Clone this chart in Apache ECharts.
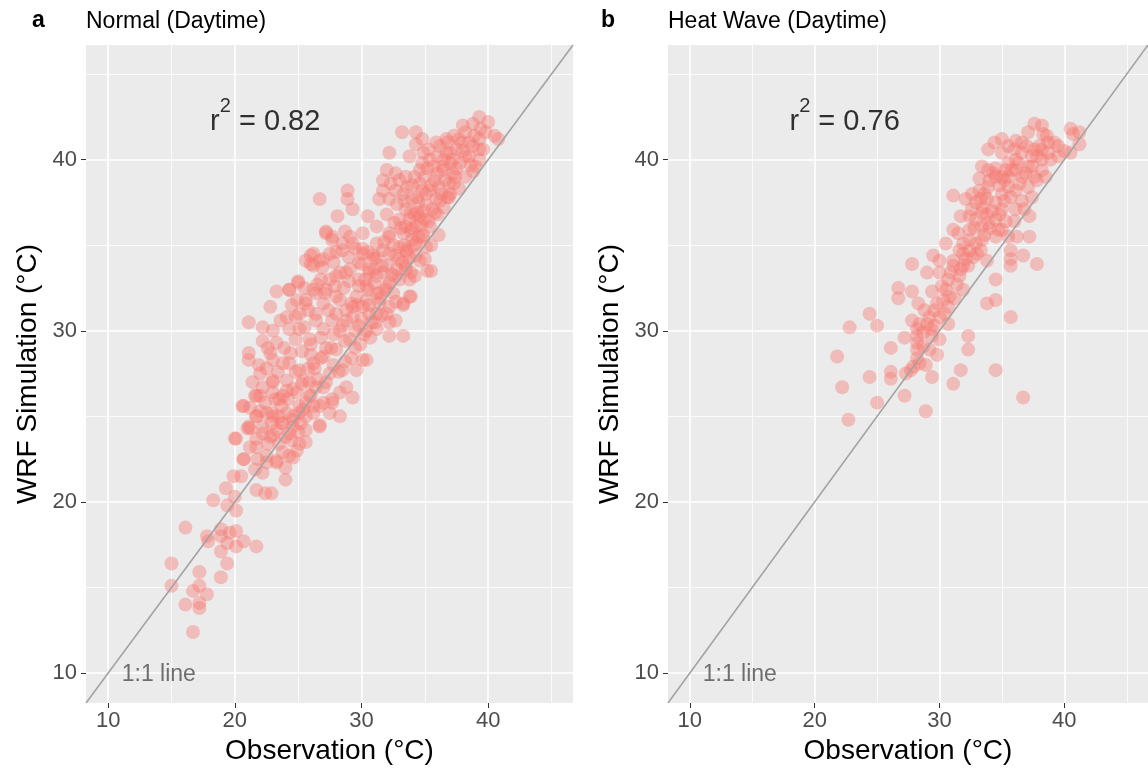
<!DOCTYPE html>
<html>
<head>
<meta charset="utf-8">
<script src="https://cdn.jsdelivr.net/npm/echarts@6/dist/echarts.min.js"></script>
<style>
html,body{margin:0;padding:0;background:#fff;}
#chart{width:1148px;height:772px;}
</style>
</head>
<body>
<div id="chart"></div>
<script>
// ---- data ----
const panelTags = ['a', 'b'];
const panelTitles = ['Normal (Daytime)', 'Heat Wave (Daytime)'];
const r2Values = ['0.82', '0.76'];
const xTicks = [10, 20, 30, 40];
const yTicks = [10, 20, 30, 40];
const minorTicks = [15, 25, 35, 45];
const axisRange = [8.25, 46.7];
const identityLine = [[8.25, 8.25], [46.7, 46.7]];
const r2LabelAt = [22.4, 42.5];
const oneToOneLabelAt = [14.0, 9.9];

// [observation, WRF simulation]
const normalPoints = [
[16.1,18.5],[15.0,16.4],[15.0,15.1],[17.2,15.9],[18.9,15.6],[19.4,16.4],[16.7,14.8],[17.2,15.1],[17.8,14.6],[16.1,14.0],
[17.2,13.8],[17.2,14.1],[16.7,12.4],[17.8,18.0],[17.9,17.7],[18.9,18.4],[18.9,18.0],[18.9,17.1],[19.4,17.6],[20.1,18.3],
[20.1,17.4],[20.7,17.7],[21.7,17.4],[19.6,18.2],[18.3,20.1],[19.3,20.8],[20.1,19.5],[20.0,20.3],[19.4,19.8],[20.1,23.7],
[20.7,25.6],[19.9,21.5],[20.5,21.5],[20.7,22.5],[21.2,23.2],[21.2,24.3],[21.6,26.2],[21.7,20.7],[22.4,20.5],[22.9,20.5],
[21.6,21.9],[22.2,21.7],[21.8,22.5],[22.5,22.3],[23.3,22.4],[24.0,21.3],[24.0,22.0],[23.8,22.9],[24.6,22.6],[24.9,23.0],
[25.6,23.5],[26.7,24.4],[21.7,23.7],[22.2,24.0],[23.0,23.9],[21.0,24.3],[21.7,25.0],[22.5,25.2],[23.0,25.0],[23.7,24.6],
[24.1,25.2],[24.6,24.8],[25.1,25.2],[25.6,25.8],[26.2,25.2],[26.7,25.6],[27.5,25.2],[27.7,26.0],[22.0,26.2],[23.0,26.4],
[23.5,26.0],[24.1,26.5],[24.9,26.4],[23.0,27.0],[24.1,27.1],[25.9,27.0],
[21.1,30.5],[21.1,28.7],[21.1,28.3],[22.2,30.2],[22.2,29.4],[22.8,31.4],[23.3,32.3],[24.3,32.4],[25.0,32.8],[22.8,28.7],
[23.3,29.3],[22.0,27.5],[21.7,26.2],[20.6,25.6],[20.0,23.7],[20.7,22.5],[21.1,24.4],[22.2,26.7],[23.0,27.1],[23.8,28.1],
[24.3,30.1],[24.1,30.8],[25.1,31.0],[25.6,31.6],[26.2,32.4],[25.6,34.1],[26.2,34.5],[26.2,33.8],[27.0,34.2],[27.2,35.7],
[27.7,35.3],[28.5,34.7],[29.1,35.5],[30.1,34.8],[31.2,35.1],[32.2,35.5],[33.3,35.7],[34.8,35.5],[35.2,33.5],[33.8,32.0],
[33.3,31.5],[32.7,31.7],[32.2,30.5],[33.3,29.7],[32.2,29.7],[31.2,30.1],[30.4,28.3],[29.3,26.1],[28.3,26.4],[28.3,25.0],
[27.0,25.8],[26.7,24.5],[25.6,24.2],[25.1,23.4],[24.3,22.7],[23.3,22.3],[22.5,22.7],[21.7,23.2],
[25.1,30.1],[25.9,29.5],[27.0,30.1],[27.7,30.6],[28.8,31.2],[29.6,32.0],[30.4,32.6],[31.2,33.2],[32.0,33.8],[32.7,34.4],
[33.5,34.7],[34.3,35.1],[24.3,28.1],[25.1,27.7],[26.2,28.1],[27.0,28.5],[28.0,28.9],[29.1,29.5],[29.8,30.3],[30.6,31.0],
[31.4,31.6],[31.9,32.4],[23.8,26.2],[24.6,26.6],[25.4,27.1],[26.4,26.7],[27.5,27.5],[28.5,27.7],[29.6,27.7],[30.1,28.3],
[23.0,25.2],[23.8,24.6],[24.6,25.0],[25.4,25.4],[26.2,25.6],[22.8,23.8],[23.5,23.4],[22.2,24.4],[21.7,25.0],[28.3,33.4],
[27.5,33.0],[29.1,33.6],[29.8,34.0],[30.6,33.6],[30.9,34.4],[31.7,34.7],[32.7,33.2],[33.5,33.6],[33.8,33.0],[28.0,32.0],
[27.0,31.6],[26.4,31.0],[28.5,30.3],[29.3,30.8],[30.1,31.4],[31.2,32.2],[32.0,31.0],[32.7,30.6],[28.8,26.7],[27.7,25.8],
[27.0,26.7],[25.9,26.2],[25.1,25.6],
[39.3,42.5],[40.5,41.4],[38.8,42.1],[39.4,41.8],[33.2,41.6],[34.3,41.6],[34.3,40.9],[32.2,40.4],[33.8,40.2],[34.9,40.4],
[35.9,41.0],[36.7,41.2],[37.7,41.2],[38.2,41.6],[39.3,40.6],[39.3,40.0],[38.8,39.3],[37.7,38.3],[36.9,37.8],[36.1,35.6],
[35.5,33.5],[33.9,33.4],[33.9,32.0],[33.3,31.6],[26.7,37.7],[28.9,38.2],[28.9,37.7],[28.1,36.7],[29.3,37.1],[30.5,36.7],
[27.2,35.8],[27.7,35.5],[26.0,34.4],[26.0,33.9],[26.7,34.1],[25.0,32.9],[24.3,32.4],[31.7,38.8],[32.7,39.2],[31.7,38.2],
[31.4,37.7],[32.2,37.7],[32.7,38.2],[33.5,39.0],[34.6,39.4],[35.4,40.0],[36.4,39.6],[37.2,39.2],[34.0,37.7],[35.1,38.0],
[36.1,38.4],[34.6,36.7],[35.6,37.1],[33.5,36.1],[32.2,35.7],[31.2,36.1],[30.1,35.7],[29.3,35.1],[28.5,35.1],[30.1,34.5],
[31.2,34.3],[32.2,34.5],[33.0,34.9],[34.0,35.3],[35.1,34.9],[31.7,33.4],[30.6,33.4],[29.8,33.0],[28.8,33.4],[28.0,33.2],
[27.2,32.4],[26.4,32.2],[25.6,31.8],[28.3,31.8],[29.3,31.4],[30.4,31.8],[31.4,32.2],[32.5,32.2],[31.2,31.0],[32.2,31.4],
[33.8,34.3],[34.6,34.1],[33.5,33.8],[34.6,38.6],[33.5,37.1],[33.3,38.0],[36.7,40.4],[37.5,40.6],[38.2,40.2],[38.8,40.8],
[39.3,41.2],[36.9,38.6],[35.9,37.7],[35.4,36.1],[34.3,36.1],
[35.0,39.0],[35.5,38.5],[36.0,39.2],[36.5,40.0],[37.0,39.8],[37.5,39.5],[38.0,40.5],[38.5,41.0],[34.5,37.5],[35.0,36.5],
[36.0,36.8],[36.5,37.2],[37.0,38.0],[35.5,35.0],[34.5,35.5],[33.8,36.5],[34.0,38.5],[35.2,39.5],[36.2,40.8],[37.2,40.0],
[33.0,36.5],[32.5,35.0],[31.8,35.2],[32.8,33.6],[31.0,32.8],[30.5,32.4],[29.7,31.5],[30.8,30.5],[31.6,30.9],[29.5,29.0],
[30.2,29.8],[28.7,29.4],[27.6,29.0],[26.8,29.6],[26.0,28.6],[25.3,28.8],[24.8,29.5],[24.5,31.5],[25.5,32.5],[26.8,33.0],
[27.8,34.0],[29.0,34.3],[30.0,33.9],
[22.5,27.8],[23.0,28.3],[23.4,27.6],[23.9,29.0],[24.4,28.7],[24.8,27.6],[25.3,26.9],[25.8,27.8],[23.2,26.0],[23.7,25.6],
[24.2,26.0],[24.6,24.4],[25.0,24.1],[25.6,25.0],[22.4,25.8],[22.9,24.6],[23.5,25.0],[24.0,23.8],[24.5,23.6],[25.2,24.6],
[26.0,26.2],[26.5,27.2],[26.0,29.2],[25.5,30.2],[24.8,30.8],[23.6,30.6],[23.0,30.0],[22.6,29.0],[21.9,28.0],[21.4,27.0],
[21.2,25.5],[22.0,25.3],[22.6,23.4],[23.3,24.2],[24.3,24.0],[26.3,27.8],[26.8,28.4],[26.4,30.6],[25.8,31.2],[24.9,31.8],
[27.2,29.0],[27.8,29.8],[28.3,30.0],[28.8,30.6],[29.2,31.6],[29.8,32.6],[30.3,33.0],[27.4,31.2],[28.0,31.0],[28.6,32.5],
[29.0,32.9],[27.1,32.2],[27.9,32.6],[29.5,30.0],[30.0,30.7],[30.6,31.5],[29.2,28.4],[28.7,28.2],[28.2,27.6],[27.8,28.0],
[27.2,27.0],[29.9,29.2],[30.7,29.6],[31.1,30.5],[30.4,30.0],[31.5,31.9],[31.0,33.6],[30.5,34.6],[29.5,34.8],[28.7,35.8],
[28.0,34.6],[27.5,34.5],[26.9,33.7],[26.5,32.7],
[32.0,32.6],[32.4,33.3],[32.9,34.2],[33.4,35.0],[33.9,35.8],[34.2,36.8],[34.4,37.8],[34.8,38.2],[33.2,34.0],[33.6,34.6],
[34.1,35.0],[34.3,34.4],[34.9,35.6],[35.3,36.4],[35.8,36.9],[33.1,36.0],[32.6,36.3],[32.0,36.8],[32.8,37.4],[33.4,37.6],
[34.0,36.0],[34.7,36.2],[35.1,37.4],[34.8,39.8],[34.2,39.0],[33.6,38.4],[33.0,38.8],[32.3,38.6],[32.0,39.4],[34.9,37.0],
[35.4,38.2],[35.8,38.8],[36.3,38.0],[36.6,38.8],[33.9,36.9],[34.4,36.9],[35.0,34.2],[34.2,33.2],[33.0,33.0],[32.2,32.8],
[31.6,33.8],[31.0,34.2],
[36.0,40.2],[36.5,39.4],[37.0,40.4],[37.4,39.0],[37.8,39.8],[38.2,39.0],[38.6,39.7],[36.8,41.0],[37.3,41.4],[37.9,41.0],
[38.5,40.2],[39.0,39.6],[36.2,37.6],[36.8,37.8],[37.3,38.6],[35.7,39.6],[35.3,40.6],[34.8,41.2],[38.0,42.0],[38.9,41.4],
[39.6,40.6],[39.8,41.6],[40.0,42.2],[40.8,41.2]
];

const heatPoints = [
[21.8,28.5],[22.2,26.7],[22.8,30.2],[24.4,31.0],[25.0,30.3],[24.4,27.3],[25.0,25.8],[26.1,29.0],[26.1,27.6],[26.1,27.2],
[26.7,32.5],[26.7,31.9],[27.2,29.6],[27.2,26.2],[27.8,33.9],[27.8,32.3],[27.8,30.6],[28.2,30.1],[28.2,29.3],[28.2,28.9],
[28.2,28.4],[28.3,31.6],[29.0,33.4],[28.8,31.2],[29.0,30.4],[28.7,29.1],[29.2,28.9],[29.4,27.3],[29.4,29.7],[29.5,34.4],
[29.4,32.3],[29.6,31.2],[30.0,34.1],[30.0,33.4],[30.0,29.5],[30.0,30.8],[30.5,32.4],[30.7,33.0],[30.5,35.1],[31.1,37.9],
[31.1,35.9],[31.1,34.1],[31.1,26.9],[30.7,31.4],[30.7,30.4],[31.5,35.7],[31.7,36.7],[31.6,34.7],[31.7,33.6],[31.7,27.7],
[32.3,29.7],[32.3,28.9],[31.9,32.4],[32.1,34.2],[32.3,33.8],[32.4,35.9],[32.6,37.1],[32.9,36.5],[32.9,35.1],[33.2,38.9],
[33.2,38.2],[33.3,37.7],[33.4,36.9],[33.4,36.1],[33.4,35.3],[33.3,34.7],[33.8,34.1],[33.9,36.3],[33.8,37.7],[33.8,31.6],
[33.9,38.4],[34.5,33.0],[34.5,39.5],[34.5,39.0],[34.5,37.5],[34.5,36.5],[34.5,35.5],[34.5,27.7],[34.4,41.0],[34.5,31.8],
[35.0,40.4],[35.0,38.0],[35.0,37.1],[35.0,35.9],[35.7,34.7],[35.7,34.2],[35.7,33.8],[35.7,30.8],[35.5,35.5],[35.5,39.0],
[35.5,39.8],[36.1,41.1],[36.1,37.1],[36.1,38.2],[36.2,35.5],[36.6,40.4],[36.6,39.0],[36.6,37.6],[36.7,34.4],[36.7,26.1],
[37.1,41.6],[37.2,36.7],[37.2,35.5],[37.1,39.6],[37.1,38.4],[37.6,42.1],[37.8,33.9],[38.2,42.0],[38.3,41.5],[38.2,40.6],
[38.2,39.4],[37.6,39.0],[37.6,40.6],[38.7,41.0],[38.9,40.0],[39.5,40.8],[39.5,40.2],[39.2,41.0],[40.5,41.8],[40.7,41.5],
[41.2,41.6],[41.2,40.9],[40.5,40.4],[40.0,40.5],[36.1,39.4],[36.1,40.0],[35.5,38.4],[35.0,39.0],[33.9,39.4],[33.4,39.6],
[32.6,38.0],[32.1,37.7],[32.9,37.5],[32.4,36.7],[31.9,35.1],[31.9,34.5],[32.4,34.7],[31.1,33.8],[31.6,33.2],[30.8,32.0],
[30.3,31.8],[29.8,31.6],[29.2,30.8],[28.4,30.4],[28.2,29.7],[28.7,29.9],[28.4,28.1],[27.9,27.9],[27.7,27.7],[27.3,27.5],
[33.9,40.6],[35.0,41.2],[35.5,40.8],[36.6,41.0],[37.4,40.2],[38.7,40.4],[38.2,40.0],[22.7,24.8],[28.9,25.3],
[33.6,38.0],[34.0,38.8],[34.3,39.2],[34.8,38.5],[35.2,38.8],[35.3,39.4],[35.8,39.4],[36.3,39.8],[36.4,38.6],[36.9,39.2],
[37.4,39.6],[37.8,40.2],[38.0,40.8],[38.6,41.4],[37.0,40.8],[36.0,40.6],[35.7,37.8],[35.2,37.6],[34.8,36.8],[34.2,37.0],
[33.8,36.8],[33.5,37.2],[34.0,36.0],[34.7,35.9],[35.3,36.4],[36.0,36.4],[36.8,37.1],[37.4,37.8],[37.8,38.8],[38.5,39.0],
[32.8,36.0],[32.4,35.3],[33.0,34.5],[33.6,35.6],[31.9,33.8],[32.7,34.3],[31.4,32.7],[30.9,33.4],[31.2,31.9],[30.2,32.6],
[29.6,30.3],[30.4,31.0],[29.8,28.6],[28.9,28.0],[29.3,30.1]
];

// ---- chart ----
const FONT = '"Liberation Sans", Arial, Helvetica, sans-serif';
const grids = [
  {left: 86, top: 45, width: 487, height: 658},
  {left: 668, top: 45, width: 486, height: 658}
];

const chart = echarts.init(document.getElementById('chart'), null, {renderer: 'canvas'});

const option = {
  animation: false,
  backgroundColor: '#ffffff',
  textStyle: {fontFamily: FONT},
  title: [],
  grid: grids.map(g => Object.assign({show: true, backgroundColor: '#EBEBEB', borderWidth: 0}, g)),
  xAxis: [],
  yAxis: [],
  series: []
};

const tagLeft = [32, 601];
panelTags.forEach((tag, i) => {
  option.title.push({
    text: tag, left: tagLeft[i], top: 9, padding: 0,
    textStyle: {fontSize: 23, fontWeight: 'bold', color: '#000', fontFamily: FONT}
  });
  option.title.push({
    text: panelTitles[i], left: grids[i].left, top: 10, padding: 0,
    textStyle: {fontSize: 23, fontWeight: 'normal', color: '#000', fontFamily: FONT}
  });

  option.xAxis.push({
    type: 'value', gridIndex: i, min: axisRange[0], max: axisRange[1],
    axisLine: {show: false},
    axisTick: {show: true, customValues: xTicks, length: 5, lineStyle: {color: '#333333', width: 1}},
    axisLabel: {show: true, customValues: xTicks, fontSize: 22, color: '#4D4D4D', margin: 7, fontFamily: FONT},
    splitLine: {show: false},
    name: 'Observation (°C)', nameLocation: 'middle', nameGap: 34,
    nameTextStyle: {fontSize: 28, color: '#000', fontFamily: FONT}
  });
  option.yAxis.push({
    type: 'value', gridIndex: i, min: axisRange[0], max: axisRange[1],
    axisLine: {show: false},
    axisTick: {show: true, customValues: yTicks, length: 5, lineStyle: {color: '#333333', width: 1}},
    axisLabel: {show: true, customValues: yTicks, fontSize: 22, color: '#4D4D4D', margin: 9, fontFamily: FONT},
    splitLine: {show: false},
    name: 'WRF Simulation (°C)', nameLocation: 'middle', nameGap: 44,
    nameTextStyle: {fontSize: 28, color: '#000', fontFamily: FONT}
  });

  // grid lines (major + minor) as mark lines, kept beneath the points
  const gridLineData = [];
  xTicks.forEach(v => gridLineData.push({xAxis: v, lineStyle: {width: 1.6}}));
  yTicks.forEach(v => gridLineData.push({yAxis: v, lineStyle: {width: 1.6}}));
  minorTicks.forEach(v => gridLineData.push({xAxis: v, lineStyle: {width: 0.8}}));
  minorTicks.forEach(v => gridLineData.push({yAxis: v, lineStyle: {width: 0.8}}));
  option.series.push({
    type: 'line', xAxisIndex: i, yAxisIndex: i, data: [], z: 1, silent: true,
    markLine: {
      z: 1, silent: true, symbol: ['none', 'none'], label: {show: false},
      lineStyle: {color: '#FFFFFF', type: 'solid'},
      emphasis: {disabled: true},
      data: gridLineData
    }
  });

  option.series.push({
    type: 'scatter', xAxisIndex: i, yAxisIndex: i,
    data: i === 0 ? normalPoints : heatPoints,
    symbolSize: 14, z: 2, silent: true,
    itemStyle: {color: '#F8766D', opacity: 0.4}
  });

  option.series.push({
    type: 'line', xAxisIndex: i, yAxisIndex: i, data: identityLine,
    showSymbol: false, symbol: 'none', z: 3, silent: true,
    lineStyle: {color: '#A3A3A3', width: 1.6}
  });

  option.series.push({
    type: 'scatter', xAxisIndex: i, yAxisIndex: i, data: [r2LabelAt],
    symbolSize: 1, z: 4, silent: true,
    itemStyle: {color: 'rgba(0,0,0,0)'},
    label: {
      show: true, position: 'inside',
      formatter: '{r|r}{s|2}{n| = ' + r2Values[i] + '}',
      rich: {
        r: {fontSize: 29, color: '#000', fontFamily: FONT, lineHeight: 40, verticalAlign: 'bottom'},
        s: {fontSize: 20, color: '#000', fontFamily: FONT, lineHeight: 16, verticalAlign: 'top'},
        n: {fontSize: 29, color: '#000', fontFamily: FONT, lineHeight: 40, verticalAlign: 'bottom'}
      }
    }
  });

  option.series.push({
    type: 'scatter', xAxisIndex: i, yAxisIndex: i, data: [oneToOneLabelAt],
    symbolSize: 1, z: 4, silent: true,
    itemStyle: {color: 'rgba(0,0,0,0)'},
    label: {show: true, position: 'inside', formatter: '1:1 line', fontSize: 23, color: '#4D4D4D', fontFamily: FONT}
  });
});

chart.setOption(option);
</script>
</body>
</html>
